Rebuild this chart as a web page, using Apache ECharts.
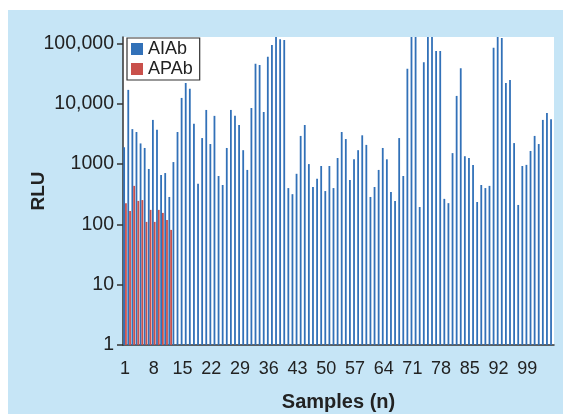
<!DOCTYPE html>
<html>
<head>
<meta charset="utf-8">
<script src="https://cdn.jsdelivr.net/npm/echarts@6/dist/echarts.min.js"></script>
<style>
  html, body { margin: 0; padding: 0; background: #fff; }
  #main { width: 563px; height: 414px; }
</style>
</head>
<body>
<div id="main"></div>
<script>
// sample numbers on the x axis
const samples = [];
for (let i = 1; i <= 105; i++) samples.push(String(i));

// AIAb signal per sample (RLU), values above the top of the plot are clipped
const aiab = [
  1900, 17000, 3800, 3400, 2200, 1850, 830, 5400, 3700, 660,
  710, 285, 1080, 3400, 12500, 22000, 17700, 4650, 470, 2700,
  7900, 2150, 6300, 635, 450, 1850, 7900, 6300, 4450, 1700,
  800, 8500, 46000, 44000, 7300, 60000, 94000, 150000, 118000, 114000,
  400, 317, 690, 2930, 4450, 1000, 417, 570, 930, 357,
  930, 400, 1260, 3400, 2600, 545, 1200, 1700, 3000, 2080,
  285, 417, 800, 1850, 1200, 346, 245, 2700, 635, 38000,
  150000, 150000, 194, 49000, 150000, 150000, 75000, 75000, 265, 225,
  1520, 13500, 39000, 1350, 1260, 970, 235, 450, 400, 435,
  85000, 150000, 123000, 22200, 24700, 2230, 210, 930, 970, 1650,
  2930, 2150, 5400, 7000, 5550
];

// APAb signal, only the first samples were measured
const apab = [225, 167, 435, 245, 253, 110, 174, 110, 174, 155, 118, 81];

const yTicks = [1, 10, 100, 1000, 10000, 100000];

const chartDom = document.getElementById('main');
const myChart = echarts.init(chartDom);

const option = {
  animation: false,
  backgroundColor: '#fff',
  textStyle: { fontFamily: 'Liberation Sans, Arial, sans-serif' },
  graphic: [
    {
      type: 'rect',
      z: -10,
      shape: { x: 8, y: 10, width: 555, height: 404 },
      style: { fill: '#c6e5f6' }
    }
  ],
  legend: {
    orient: 'vertical',
    left: 127,
    top: 38,
    padding: [2, 7, 2, 4],
    itemGap: 2,
    itemWidth: 12,
    itemHeight: 12,
    backgroundColor: '#fff',
    borderColor: '#333',
    borderWidth: 1.2,
    borderRadius: 0,
    textStyle: { fontSize: 18, color: '#222' },
    data: [
      { name: 'AIAb', icon: 'rect' },
      { name: 'APAb', icon: 'rect' }
    ]
  },
  grid: {
    left: 123,
    right: 9,
    top: 37,
    bottom: 69,
    outerBoundsMode: 'none',
    containLabel: false,
    show: true,
    backgroundColor: '#fff',
    borderWidth: 0
  },
  xAxis: {
    type: 'category',
    data: samples,
    name: 'Samples (n)',
    nameLocation: 'middle',
    nameGap: 47,
    nameMoveOverlap: false,
    nameTextStyle: { fontSize: 20, fontWeight: 'bold', color: '#222' },
    axisLine: { lineStyle: { color: '#333', width: 1.5 } },
    axisTick: { interval: 6, alignWithLabel: true, length: 7, lineStyle: { color: '#333', width: 1.5 } },
    axisLabel: { interval: 6, fontSize: 18, color: '#222', margin: 15 }
  },
  yAxis: {
    type: 'log',
    logBase: 10,
    min: 1,
    max: 128000,
    name: 'RLU',
    nameLocation: 'middle',
    nameGap: 75,
    nameMoveOverlap: false,
    nameTextStyle: { fontSize: 19, fontWeight: 'bold', color: '#222' },
    splitLine: { show: false },
    axisLine: { show: true, lineStyle: { color: '#333', width: 1.5 } },
    axisTick: { show: true, length: 6, customValues: yTicks, lineStyle: { color: '#333', width: 1.5 } },
    axisLabel: {
      fontSize: 19.5,
      color: '#222',
      margin: 9,
      customValues: yTicks,
      formatter: function (v) {
        return v >= 10000 ? v.toLocaleString('en-US') : String(v);
      }
    }
  },
  series: [
    {
      name: 'AIAb',
      type: 'bar',
      data: aiab,
      barWidth: 1.8,
      barGap: '0%',
      itemStyle: { color: '#3271b8' }
    },
    {
      name: 'APAb',
      type: 'bar',
      data: apab,
      barWidth: 1.8,
      itemStyle: { color: '#c9504b' }
    }
  ]
};

option && myChart.setOption(option);
</script>
</body>
</html>
